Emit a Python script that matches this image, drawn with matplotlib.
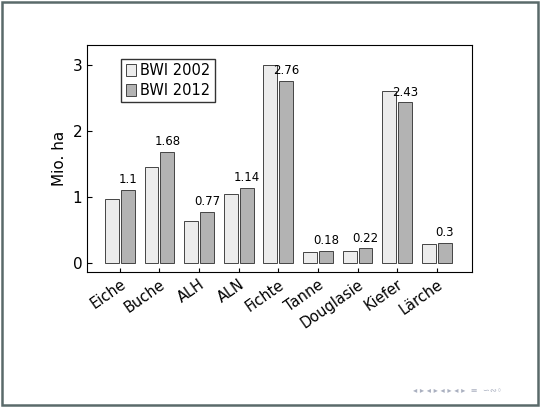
import matplotlib
matplotlib.use("Agg")
import matplotlib.pyplot as plt
import numpy as np
from matplotlib.patches import Rectangle

categories = ["Eiche", "Buche", "ALH", "ALN", "Fichte", "Tanne", "Douglasie", "Kiefer", "Lärche"]
bwi2002 = [0.97, 1.45, 0.63, 1.05, 2.99, 0.16, 0.18, 2.60, 0.29]
bwi2012 = [1.10, 1.68, 0.77, 1.14, 2.76, 0.18, 0.22, 2.43, 0.30]
labels2012 = ["1.1", "1.68", "0.77", "1.14", "2.76", "0.18", "0.22", "2.43", "0.3"]

W, H = 540, 407
fig = plt.figure(figsize=(W/100, H/100), dpi=100)
fig.patches.append(Rectangle((0.003, 0.004), 0.994, 0.992, transform=fig.transFigure,
                             fill=False, edgecolor="#5a6a6a", linewidth=1.8))
ax = fig.add_axes([87/W, 1-272/H, (472-87)/W, (272-45)/H])
x = np.arange(len(categories))
w = 0.35
ax.bar(x - 0.2, bwi2002, w, color="#ececec", edgecolor="#444444", linewidth=0.7, label="BWI 2002")
ax.bar(x + 0.2, bwi2012, w, color="#b3b3b3", edgecolor="#444444", linewidth=0.7, label="BWI 2012")
for xi, v, t in zip(x, bwi2012, labels2012):
    ax.text(xi + 0.2, v + 0.06, t, ha="center", va="bottom", fontsize=8.5)
ax.set_xlim(-0.83, 8.89)
ax.set_ylim(-0.136, 3.3)
ax.set_yticks([0, 1, 2, 3])
ax.set_xticks(x)
ax.set_xticklabels(categories, rotation=35, ha="right", rotation_mode="anchor", fontsize=10.5)
ax.tick_params(axis="y", labelsize=11, direction="in")
ax.tick_params(axis="x", direction="in", length=3)
ax.set_ylabel("Mio. ha", fontsize=11)
for s in ax.spines.values():
    s.set_linewidth(0.8)
ax.legend(loc="upper left", bbox_to_anchor=(0.07, 0.97), fontsize=10.5, frameon=True,
          fancybox=False, edgecolor="black", handlelength=0.7, handleheight=0.9,
          borderpad=0.3, labelspacing=0.3, handletextpad=0.3)
fig.text(0.93, 0.035, "◂ ▸ ◂ ▸ ◂ ▸ ◂ ▸  ≡  ∽∾◦", fontsize=6, color="#aab0c0", ha="right")
fig.savefig("out.png", dpi=100)
